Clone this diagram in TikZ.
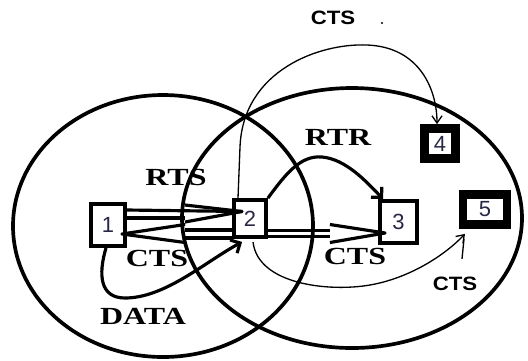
\documentclass[tikz,border=0pt]{standalone}
\usepackage{fontspec}
\setmainfont{Liberation Serif}
\newfontfamily\lblserif[FakeStretch=1.3]{Liberation Serif}
\newfontfamily\lblsans[FakeStretch=1.15]{Liberation Sans}
\newfontfamily\numfont{Liberation Sans}
\usetikzlibrary{calc,arrows.meta}
\definecolor{numcol}{RGB}{40,40,70}
\begin{document}
\begin{tikzpicture}[x=0.02cm,y=-0.02cm,
  ring/.style={line width=2.1pt},
  stn/.style={draw,line width=2.2pt,inner sep=0pt,
    font=\numfont\fontsize{12.5}{14}\selectfont,text=numcol},
  thk/.style={line width=1.8pt,line join=round},
  thin/.style={line width=0.75pt},
  serlbl/.style={font=\lblserif\bfseries\fontsize{14}{16}\selectfont,inner sep=0pt},
  sanslbl/.style={font=\lblsans\bfseries\fontsize{11}{13}\selectfont,inner sep=0pt},
  bigtip/.style={-{Straight Barb[angle=90:6pt,line width=1.8pt]}},
  smalltip/.style={-{Straight Barb[angle=70:5pt,line width=0.75pt]}}
]
\useasboundingbox (0,0) rectangle (528,360);

% ranges
\draw[ring] (163,226) ellipse [x radius=150, y radius=131];
\draw[ring] (352,218) ellipse [x radius=170, y radius=130];

% stations
\node[stn,minimum width=0.68cm,minimum height=0.84cm] (n1) at (108,225) {1};
\node[stn,minimum width=0.64cm,minimum height=0.74cm] (n2) at (250,218.5) {2};
\node[stn,minimum width=0.74cm,minimum height=0.84cm] (n3) at (398.5,222) {3};
\node[stn,line width=5pt,minimum width=0.62cm,minimum height=0.6cm] (n4) at (440,143.5) {4};
\node[stn,line width=5pt,minimum width=0.88cm,minimum height=0.6cm] (n5) at (485,209.5) {5};

% RTS 1 -> 2 (double arrow)
\draw[thk] ($(n1.east)+(0,-15)$) -- ($(n2.west)+(10,-7)$);
\draw[thk] ($(n1.east)+(0,-7)$) -- ($(n1.east)+(58,-7)$);
\draw[thk] ($(n1.east)+(58,-20)$) -- ($(n2.west)+(10,-7)$) -- ($(n1.east)+(58,-3)$);

% CTS 2 -> 1 (double arrow)
\draw[thk] ($(n2.west)+(0,11.5)$) -- ($(n2.west)+(-47,11.5)$);
\draw[thk] ($(n2.west)+(0,19.5)$) -- ($(n2.west)+(-47,19.5)$);
\draw[thk] ($(n2.west)+(-47,6)$) -- ($(n1.east)+(-5,9)$) -- ($(n2.west)+(-47,24)$);

% CTS 2 -> 3 (double arrow)
\draw[thk] ($(n2.east)+(0,12)$) -- ($(n2.east)+(62,12)$);
\draw[thk] ($(n2.east)+(0,18)$) -- ($(n2.east)+(62,18)$);
\draw[thk] ($(n2.east)+(62,6)$) -- ($(n3.west)+(7,11)$) -- ($(n2.east)+(62,24)$);

% RTR 2 -> 3
\draw[thk,bigtip] (n2.north east) .. controls (285,175) and (300,155) .. (322,157)
  .. controls (345,159) and (365,180) .. ($(n3.north west)+(5,0)$);

% DATA 1 -> 2
\draw[thk,bigtip] ($(n1.south)+(-2,0)$) .. controls (98,275) and (100,298) .. (125,298)
  .. controls (165,298) and (205,262) .. ($(n2.south west)+(10,3)$);

% CTS overheard by 4
\draw[thin,smalltip] ($(n2.north)+(-12,0)$) -- (240,147) .. controls (243,70) and (320,43) .. (367,45)
  .. controls (420,47) and (437,90) .. ($(n4.north)+(-3,0)$);

% CTS overheard by 5
\draw[thin,smalltip] ($(n2.south)+(3,3)$) .. controls (258,285) and (330,292) .. (370,285)
  .. controls (410,278) and (445,255) .. ($(n5.south)+(-20,5)$);
\draw[thin] ($(n5.south)+(-21,10)$) -- ($(n5.south)+(-23,30)$);

% labels
\node[sanslbl] (lcts4) at (333,18) {CTS};
\fill (382,23) circle [radius=0.6pt];
\node[serlbl] (lrtr) at (338,137) {RTR};
\node[serlbl] (lrts) at (176,177) {RTS};
\node[serlbl] (lcts1) at (157,258) {CTS};
\node[serlbl] (lcts3) at (355,256) {CTS};
\node[serlbl] (ldata) at (143,316) {DATA};
\node[sanslbl] (lcts5) at (455,284) {CTS};
\end{tikzpicture}
\end{document}
